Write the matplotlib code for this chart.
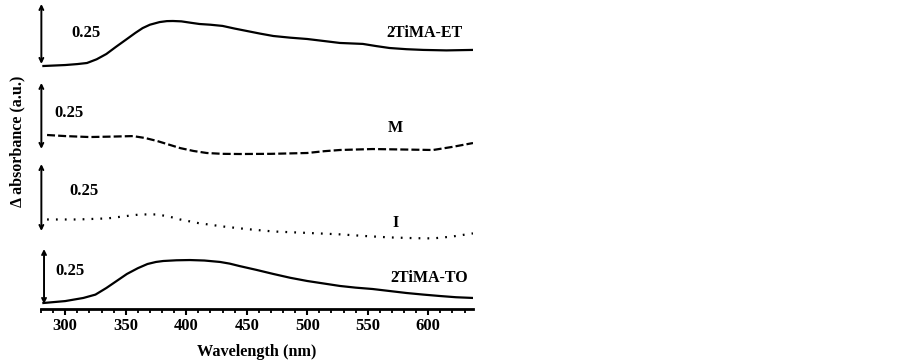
import matplotlib
matplotlib.use('Agg')
import matplotlib.pyplot as plt
from matplotlib.ticker import MultipleLocator

plt.rcParams['font.family'] = ['Liberation Serif', 'DejaVu Serif']
plt.rcParams['font.weight'] = 'bold'

# wavelength (nm) and delta absorbance relative to each trace's own baseline
wl_et = [282, 300, 310, 318, 326, 334, 342, 351, 358, 364, 370, 378, 384, 389, 396, 404, 411,
         420, 430, 440, 450, 461, 472, 486, 500, 514, 527, 546, 557, 568, 582, 596, 615, 637]
ab_et = [0.0, 0.004, 0.008, 0.0125, 0.028, 0.05, 0.08, 0.1125, 0.138, 0.158, 0.172, 0.183, 0.187,
         0.1875, 0.186, 0.18, 0.175, 0.172, 0.167, 0.156, 0.146, 0.135, 0.125, 0.118, 0.1125,
         0.104, 0.096, 0.092, 0.083, 0.075, 0.07, 0.067, 0.065, 0.067]

wl_m = [285, 300, 320, 340, 356, 366, 376, 386, 395, 406, 417, 430, 444, 470, 500, 514, 527,
        554, 580, 604, 620, 637]
ab_m = [0.0875, 0.083, 0.079, 0.081, 0.083, 0.075, 0.0625, 0.047, 0.033, 0.021, 0.0125, 0.009,
        0.0083, 0.009, 0.0125, 0.02, 0.025, 0.029, 0.027, 0.025, 0.038, 0.054]

wl_i = [285, 310, 335, 350, 362, 376, 386, 395, 410, 430, 450, 472, 500, 527, 548, 568, 590,
        604, 620, 637]
ab_i = [0.083, 0.083, 0.0875, 0.097, 0.104, 0.104, 0.095, 0.083, 0.068, 0.054, 0.043, 0.033,
        0.027, 0.021, 0.014, 0.0083, 0.005, 0.0042, 0.012, 0.025]

wl_to = [282, 300, 315, 325, 334, 342, 351, 360, 368, 375, 381, 392, 403, 415, 428, 436, 444,
         458, 472, 486, 500, 514, 527, 540, 554, 568, 582, 596, 610, 623, 637]
ab_to = [0.0, 0.008, 0.021, 0.035, 0.0625, 0.09, 0.121, 0.145, 0.1625, 0.171, 0.175, 0.178,
         0.179, 0.177, 0.171, 0.164, 0.154, 0.138, 0.121, 0.105, 0.0917, 0.081, 0.071, 0.064,
         0.0583, 0.05, 0.0417, 0.035, 0.029, 0.024, 0.021]

names = ['2TiMA-ET', 'M', 'I', '2TiMA-TO']
offsets = [1.0125, 0.6375, 0.29, 0.025]
styles = ['-', (0, (3.6, 1.4)), (0, (0.8, 3.2)), '-']

# scale bars (x, y bottom, y top) and their 0.25 labels
bar_x = [280.3, 280.3, 280.3, 282.5]
bar_lo = [1.021, 0.667, 0.325, 0.021]
bar_hi = [1.271, 0.942, 0.604, 0.25]
bar_txt = [(317, 1.15), (303, 0.817), (315.5, 0.49), (304, 0.158)]
name_pos = [(597, 1.15), (573, 0.754), (573, 0.358), (601, 0.129)]

fig = plt.figure(figsize=(9.03, 3.62), dpi=100)
ax = fig.add_axes([41 / 903, 53 / 362, 432 / 903, 307 / 362])

series = [(wl_et, ab_et), (wl_m, ab_m), (wl_i, ab_i), (wl_to, ab_to)]
for (wl, ab), off, ls in zip(series, offsets, styles):
    y = [v + off for v in ab]
    ax.plot(wl, y, color='black', linewidth=1.6, linestyle=ls, dash_capstyle='butt')

for x, lo, hi in zip(bar_x, bar_lo, bar_hi):
    ax.annotate('', xy=(x, hi), xytext=(x, lo),
                arrowprops=dict(arrowstyle='<->', color='black', lw=1.4,
                                mutation_scale=7, shrinkA=0, shrinkB=0))
for (tx, ty) in bar_txt:
    ax.text(tx, ty, '0.25', ha='center', va='center', fontsize=12, fontweight='bold')
for name, (tx, ty) in zip(names, name_pos):
    ax.text(tx, ty, name, ha='center', va='center', fontsize=11.5, fontweight='bold')

ax.set_xlim(280, 637)
ax.set_ylim(0, 307 / 240)
ax.xaxis.set_major_locator(MultipleLocator(50))
ax.xaxis.set_minor_locator(MultipleLocator(10))
ax.tick_params(axis='x', which='major', direction='out', length=4.5, width=1.5,
               labelsize=12, pad=2)
ax.tick_params(axis='x', which='minor', direction='out', length=3, width=1.3)
ax.set_yticks([])
for s in ['left', 'top', 'right']:
    ax.spines[s].set_visible(False)
ax.spines['bottom'].set_linewidth(2)
for lab in ax.get_xticklabels():
    lab.set_fontweight('bold')
ax.set_xlabel('Wavelength (nm)', fontsize=11.7, fontweight='bold', labelpad=7)
fig.text(17 / 903, 0.61, '\u0394 absorbance (a.u.)', rotation=90, ha='center', va='center',
         fontsize=11.5, fontweight='bold')

fig.savefig('out.png', dpi=100)
